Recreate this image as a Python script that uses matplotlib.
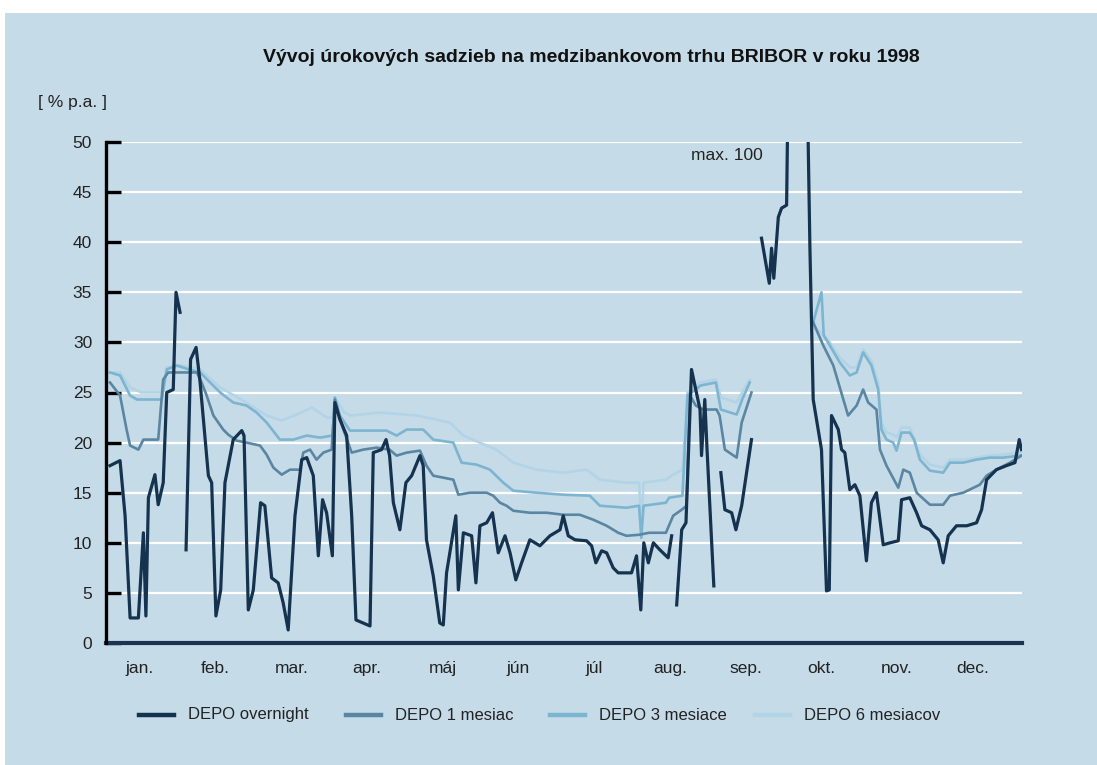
import numpy as np
import matplotlib
matplotlib.use("Agg")
import matplotlib.pyplot as plt
from matplotlib.lines import Line2D

nan = np.nan

# ---------------- data (x = day of year 1998, y = % p.a.) ----------------
on_x = [1.6, 5.6, 7.6, 9.6, 12.9, 14.9, 15.9, 16.9, 19.5, 20.8, 22.8, 24.2, 26.8, 27.9, 29.5,
        30.5,
        31.9, 33.7, 35.9, 37.5, 40.8, 42.1, 43.8, 45.7, 47.4, 50.7, 54.1, 55.0, 56.7, 58.7,
        61.6, 63.3, 66.0, 68.6, 70.6, 72.6, 75.3, 78.0, 80.0, 82.6, 84.6, 86.3, 87.9, 90.2,
        91.2, 93.2, 95.9, 97.9, 99.6, 105.2, 106.5, 109.8, 111.6, 113.0, 114.5, 117.1, 119.5,
        121.8, 125.1, 126.4, 127.7, 130.4, 133.0, 134.4, 135.7, 139.4, 140.4, 142.4, 145.7,
        147.4, 149.0, 151.7, 154.0, 156.3, 159.0, 161.0, 163.3, 165.6, 168.9, 172.9, 176.9,
        180.9, 182.2, 184.2, 186.9, 191.5, 193.5, 195.2, 197.5, 199.5, 202.1, 204.1, 209.4,
        211.4, 213.1, 214.3, 216.1, 218.1, 220.7, 224.0, 225.4,
        226.4,
        227.4, 229.4, 231.1, 233.3, 236.7, 237.3, 238.6, 239.5, 242.2,
        243.6,
        245.0, 246.6, 249.3, 251.0, 253.3, 257.2,
        259.2,
        261.2, 264.3, 265.2, 266.1, 267.9, 269.2, 271.2, 274.0, 276.5, 280.5, 281.8, 285.1,
        287.1, 288.2, 289.1, 291.8, 293.1, 294.4, 296.4, 298.4, 300.4, 303.0, 305.0, 307.0,
        309.7, 312.4, 315.7, 317.0, 320.3, 323.0, 325.0, 328.3, 331.6, 333.6, 335.6, 338.9,
        343.0, 346.9, 348.9, 350.9, 354.8, 358.8, 362.2, 363.9, 364.8]
on_y = [17.7, 18.2, 12.7, 2.5, 2.5, 11.0, 2.7, 14.5, 16.8, 13.8, 16.0, 25.0, 25.3, 35.0, 33.0,
        nan,
        9.3, 28.3, 29.5, 26.0, 16.7, 16.0, 2.7, 5.3, 16.0, 20.3, 21.2, 20.7, 3.3, 5.3,
        14.0, 13.7, 6.5, 6.0, 4.0, 1.3, 12.7, 18.3, 18.5, 16.7, 8.7, 14.3, 13.0, 8.7,
        24.0, 22.3, 20.7, 12.7, 2.3, 1.7, 19.0, 19.3, 20.3, 18.7, 14.0, 11.3, 16.0,
        16.7, 18.7, 17.7, 10.3, 6.7, 2.0, 1.8, 7.0, 12.7, 5.3, 11.0, 10.7,
        6.0, 11.7, 12.0, 13.0, 9.0, 10.7, 9.0, 6.3, 8.0, 10.3, 9.7, 10.7,
        11.3, 12.7, 10.7, 10.3, 10.2, 9.7, 8.0, 9.2, 9.0, 7.5, 7.0, 7.0,
        8.7, 3.3, 10.0, 8.0, 10.0, 9.3, 8.5, 10.7,
        nan,
        3.8, 11.3, 12.0, 27.3, 23.3, 18.7, 24.3, 19.3, 5.7,
        nan,
        17.0, 13.3, 13.0, 11.3, 13.7, 20.3,
        nan,
        40.4, 35.9, 39.4, 36.4, 42.5, 43.4, 43.7, 100.0, 100.0, 39.3, 24.3, 19.3,
        5.2, 5.3, 22.7, 21.3, 19.3, 19.0, 15.3, 15.8, 14.7, 8.2, 14.0, 15.0,
        9.8, 10.0, 10.2, 14.3, 14.5, 13.0, 11.7, 11.3, 10.3, 8.0, 10.7, 11.7,
        11.7, 12.0, 13.3, 16.3, 17.3, 17.7, 18.0, 20.3, 19.3]

m1_x = [1.6, 5.6, 8.2, 9.6, 12.9, 14.9, 20.8, 22.8, 24.8, 29.5, 36.2, 38.1, 40.1, 42.8, 46.7,
        48.7, 52.0, 56.0, 61.4, 64.0, 66.7, 70.0, 73.3, 77.3, 78.6, 81.3, 83.9, 86.6, 89.9,
        91.2, 94.6, 97.9, 102.5, 107.8, 113.0, 115.8, 119.8, 125.1, 127.7, 130.4, 138.4,
        140.4, 145.0, 151.7, 154.3, 157.0, 159.6, 162.3, 168.9, 175.6, 182.2, 188.8, 194.2,
        199.5, 204.1, 207.4, 212.4, 216.4, 223.1, 226.0, 229.4, 231.3, 232.7, 235.0, 238.0,
        243.3, 244.5, 246.6, 251.3, 253.3, 257.2,
        270.0,
        281.8, 285.8, 289.8, 295.7, 299.1, 301.7, 303.7, 307.0, 308.4, 311.0, 315.7, 317.7,
        320.3, 323.0, 328.3, 333.6, 336.3, 341.6, 348.2, 350.9, 354.8, 360.2, 364.8]
m1_y = [26.0, 24.7, 21.3, 19.7, 19.3, 20.3, 20.3, 26.3, 27.0, 27.0, 27.0, 26.0, 24.7, 22.7, 21.3,
        20.8, 20.2, 20.0, 19.7, 18.8, 17.5, 16.8, 17.3, 17.3, 19.0, 19.3, 18.3, 19.0, 19.3,
        24.3, 21.3, 19.0, 19.3, 19.5, 19.3, 18.7, 19.0, 19.2, 17.7, 16.7, 16.3,
        14.8, 15.0, 15.0, 14.7, 14.0, 13.7, 13.2, 13.0, 13.0, 12.8, 12.8, 12.3,
        11.7, 11.0, 10.7, 10.8, 11.0, 11.0, 12.7, 13.3, 13.7, 24.7, 23.7, 23.3,
        23.3, 22.7, 19.3, 18.5, 22.0, 25.0,
        nan,
        32.0, 29.7, 27.7, 22.7, 23.7, 25.3, 24.0, 23.3, 19.3, 17.7, 15.5, 17.3,
        17.0, 15.0, 13.8, 13.8, 14.7, 15.0, 15.8, 16.7, 17.3, 18.0, 18.7]

m3_x = [1.6, 5.6, 9.6, 12.3, 22.2, 24.2, 28.2, 33.0, 37.5, 41.5, 45.5, 50.7, 56.0, 60.0, 64.0,
        69.3, 74.6, 80.0, 85.3, 90.2, 91.2, 93.2, 97.2, 111.8, 115.8, 119.8, 126.4, 130.4,
        138.4, 141.7, 147.7, 153.0, 158.3, 162.3, 171.5, 182.2, 192.8, 196.8, 207.4, 212.4,
        213.3, 214.2, 223.1, 224.4, 229.7, 231.7, 237.0, 243.0, 245.0, 251.3, 253.5, 256.5,
        270.0,
        281.8, 285.1, 286.0, 288.4, 292.4, 296.4, 299.1, 301.7, 305.0, 307.7, 309.0, 311.0,
        313.7, 315.0, 317.0, 320.3, 322.0, 324.3, 328.3, 333.6, 336.3, 341.6, 346.9, 352.2,
        357.5, 364.2]
m3_y = [27.0, 26.7, 24.7, 24.3, 24.3, 27.3, 27.7, 27.3, 27.0, 26.0, 25.0, 24.0, 23.7, 23.0, 22.0,
        20.3, 20.3, 20.7, 20.5, 20.7, 24.5, 22.7, 21.2, 21.2, 20.7, 21.3, 21.3, 20.3,
        20.0, 18.0, 17.8, 17.3, 16.0, 15.2, 15.0, 14.8, 14.7, 13.7, 13.5, 13.7,
        10.5, 13.7, 14.0, 14.5, 14.7, 24.7, 25.7, 26.0, 23.3, 22.8, 24.3, 26.0,
        nan,
        32.0, 35.0, 30.7, 29.7, 28.0, 26.7, 27.0, 29.0, 27.7, 25.3, 21.3, 20.3,
        20.0, 19.2, 21.0, 21.0, 20.3, 18.3, 17.2, 17.0, 18.0, 18.0, 18.3, 18.5,
        18.5, 18.7]

m6_x = [1.6, 5.6, 9.6, 14.0, 22.2, 24.2, 30.0, 37.5, 45.5, 56.0, 64.0, 70.0, 76.0, 82.0, 88.0,
        90.2, 91.2, 95.0, 97.4, 109.0, 124.0, 137.0, 142.4, 155.5, 162.3, 171.5, 182.2, 191.5,
        196.8, 207.4, 212.4, 213.3, 214.2, 223.1, 226.0, 229.7, 231.7, 237.0, 243.0, 245.0,
        251.3, 253.5, 256.5,
        270.0,
        281.8, 285.0, 288.4, 292.4, 296.4, 299.1, 301.7, 305.0, 307.7, 309.0, 311.0, 313.7,
        315.0, 317.0, 320.3, 324.3, 328.3, 333.6, 336.3, 341.6, 346.9, 352.2, 357.5, 364.2]
m6_y = [27.0, 27.0, 25.5, 25.0, 25.0, 27.5, 27.7, 27.3, 25.5, 24.0, 22.7, 22.2, 22.8, 23.5, 22.5,
        22.5, 24.5, 23.0, 22.7, 23.0, 22.7, 22.0, 20.7, 19.3, 18.0, 17.3, 17.0, 17.3,
        16.3, 16.0, 16.0, 12.0, 16.0, 16.3, 16.8, 17.3, 25.0, 26.0, 26.3, 24.5,
        24.0, 25.0, 26.3,
        nan,
        31.5, 31.0, 30.0, 28.5, 27.5, 27.5, 29.3, 28.2, 26.0, 22.0, 21.0, 20.8,
        20.5, 21.5, 21.5, 18.8, 17.8, 17.5, 18.3, 18.3, 18.5, 18.7, 18.8, 19.0]

series_names = ["DEPO overnight", "DEPO 1 mesiac", "DEPO 3 mesiace", "DEPO 6 mesiacov"]
series_colors = ["#15324f", "#5a86a2", "#7db4cf", "#b3d4e6"]
series_widths = [2.3, 1.9, 1.9, 1.9]

month_labels = ["jan.", "feb.", "mar.", "apr.", "máj", "jún", "júl", "aug.", "sep.",
                "okt.", "nov.", "dec."]
y_ticks = [0, 5, 10, 15, 20, 25, 30, 35, 40, 45, 50]

title = "Vývoj úrokových sadzieb na medzibankovom trhu BRIBOR v roku 1998"
unit_label = "[ % p.a. ]"
max_note = "max. 100"

# ---------------- figure ----------------
BG = "#c5dbe8"
W, H = 1097, 765
fig = plt.figure(figsize=(W / 100, H / 100), dpi=100, facecolor="white")
fig.add_artist(plt.Rectangle((5 / W, 0), 1, 1 - 13 / H, transform=fig.transFigure,
                             facecolor=BG, edgecolor="none", zorder=-10))

ax = fig.add_axes([106 / W, 1 - 643 / H, (1022 - 106) / W, (643 - 142) / H])
ax.set_facecolor(BG)
ax.set_xlim(0, 365)
ax.set_ylim(0, 50)

xs = [on_x, m1_x, m3_x, m6_x]
ys = [on_y, m1_y, m3_y, m6_y]
for i in (3, 2, 1, 0):
    assert len(xs[i]) == len(ys[i])
    ax.plot(xs[i], ys[i], color=series_colors[i], lw=series_widths[i],
            solid_joinstyle="round", zorder=3 + (3 - i))

font = "Liberation Sans"
ax.set_yticks(y_ticks)
ax.set_yticklabels([str(v) for v in y_ticks], fontsize=12.5, family=font, color="#222222")
month_pos = 13.5 + np.arange(12) * 30.17
ax.set_xticks(month_pos)
ax.set_xticklabels(month_labels, fontsize=12.5, family=font, color="#222222")
ax.tick_params(axis="y", direction="in", length=11, width=2.4, color="black", pad=10)
ax.tick_params(axis="x", length=0, pad=13)

ax.grid(axis="y", color="white", lw=1.6, zorder=1)
ax.set_axisbelow(True)
for s in ("top", "right"):
    ax.spines[s].set_visible(False)
ax.spines["left"].set_color("black")
ax.spines["left"].set_linewidth(2.4)
ax.spines["left"].set_zorder(10)
ax.spines["bottom"].set_color("#1b3550")
ax.spines["bottom"].set_linewidth(3)

ax.text(247.5, 48.7, max_note, ha="center", va="center", fontsize=12.5, family=font,
        color="#222222")

fig.text(591 / W, 1 - 58 / H, title, ha="center", va="center", fontsize=14,
         fontweight="bold", family=font, color="#111111")
fig.text(38 / W, 1 - 103 / H, unit_label, ha="left", va="center", fontsize=12.5,
         family=font, color="#222222")

# legend
leg_y = 1 - 715 / H
handle_x = [139, 346, 550, 755]
for i in range(4):
    x0 = handle_x[i] / W
    fig.add_artist(Line2D([x0, x0 + 35 / W], [leg_y, leg_y], transform=fig.transFigure,
                          color=series_colors[i], lw=3.2))
    fig.text(x0 + 49 / W, leg_y, series_names[i], ha="left", va="center", fontsize=12,
             family=font, color="#222222")

fig.savefig("out.png", dpi=100, facecolor="white")
